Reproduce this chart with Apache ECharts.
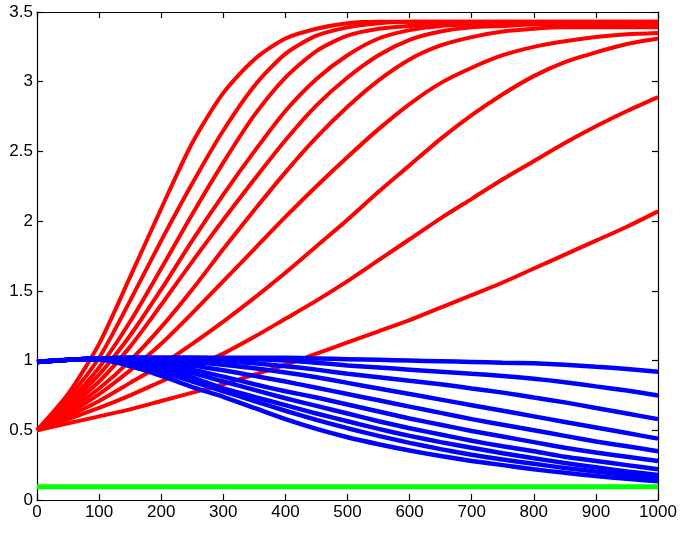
<!DOCTYPE html>
<html>
<head>
<meta charset="utf-8">
<script src="https://cdn.jsdelivr.net/npm/echarts@6/dist/echarts.min.js"></script>
<style>
html,body{margin:0;padding:0;background:#fff;}
#chart{width:685px;height:535px;}
</style>
</head>
<body>
<div id="chart"></div>
<script>
// sample times
var tValues = [0,50,100,150,200,250,300,350,400,450,500,550,600,650,700,750,800,850,900,950,1000];
var xTicks = [0,100,200,300,400,500,600,700,800,900,1000];
var yTicks = [0,0.5,1,1.5,2,2.5,3,3.5];

// red (rising) curves, fastest to slowest
var red1  = [0.50,0.76,1.12,1.60,2.09,2.56,2.92,3.16,3.31,3.38,3.42,3.43,3.43,3.43,3.43,3.43,3.43,3.43,3.43,3.43,3.43];
var red2  = [0.50,0.73,1.02,1.43,1.86,2.27,2.65,2.97,3.20,3.33,3.39,3.42,3.43,3.43,3.43,3.43,3.43,3.43,3.43,3.43,3.43];
var red3  = [0.50,0.70,0.95,1.28,1.66,2.05,2.42,2.76,3.03,3.22,3.33,3.38,3.40,3.41,3.42,3.42,3.42,3.42,3.42,3.42,3.42];
var red4  = [0.50,0.68,0.90,1.18,1.51,1.86,2.19,2.50,2.79,3.02,3.19,3.31,3.37,3.40,3.41,3.42,3.42,3.42,3.42,3.42,3.42];
var red5  = [0.50,0.66,0.85,1.10,1.40,1.71,2.01,2.30,2.58,2.83,3.03,3.19,3.30,3.36,3.39,3.40,3.41,3.41,3.41,3.41,3.41];
var red6  = [0.50,0.64,0.80,1.00,1.24,1.51,1.80,2.08,2.35,2.60,2.82,3.01,3.16,3.26,3.32,3.36,3.38,3.39,3.39,3.39,3.39];
var red7  = [0.50,0.62,0.76,0.93,1.12,1.34,1.57,1.80,2.03,2.25,2.46,2.66,2.84,2.99,3.10,3.19,3.25,3.29,3.32,3.34,3.35];
var red8  = [0.50,0.60,0.71,0.84,0.97,1.12,1.28,1.45,1.63,1.82,2.01,2.21,2.40,2.59,2.76,2.91,3.04,3.14,3.21,3.27,3.31];
var red9  = [0.50,0.58,0.66,0.75,0.85,0.95,1.05,1.17,1.30,1.43,1.57,1.72,1.87,2.02,2.16,2.30,2.43,2.56,2.68,2.79,2.89];
var red10 = [0.50,0.55,0.60,0.65,0.71,0.77,0.83,0.90,0.97,1.05,1.13,1.21,1.29,1.38,1.47,1.56,1.66,1.76,1.86,1.96,2.07];

// blue (falling) curves, slowest to fastest
var blue1  = [0.99,1.005,1.015,1.02,1.02,1.02,1.02,1.02,1.02,1.015,1.01,1.005,1.0,0.995,0.99,0.985,0.98,0.97,0.955,0.94,0.92];
var blue2  = [0.99,1.005,1.015,1.02,1.02,1.02,1.015,1.01,1.0,0.985,0.965,0.95,0.935,0.92,0.905,0.89,0.87,0.845,0.815,0.785,0.75];
var blue3  = [0.99,1.005,1.015,1.02,1.015,1.01,0.995,0.98,0.96,0.935,0.905,0.88,0.855,0.83,0.80,0.77,0.735,0.70,0.66,0.62,0.58];
var blue4  = [0.99,1.005,1.015,1.01,1.005,0.99,0.97,0.945,0.915,0.88,0.84,0.80,0.76,0.72,0.68,0.64,0.60,0.56,0.52,0.48,0.44];
var blue5  = [0.99,1.005,1.015,1.01,0.99,0.965,0.93,0.89,0.85,0.805,0.76,0.715,0.67,0.625,0.58,0.54,0.50,0.46,0.42,0.385,0.35];
var blue6  = [0.99,1.005,1.015,1.0,0.97,0.935,0.885,0.83,0.78,0.735,0.685,0.635,0.585,0.54,0.495,0.455,0.415,0.375,0.34,0.31,0.28];
var blue7  = [0.99,1.005,1.015,0.99,0.955,0.91,0.85,0.79,0.73,0.675,0.62,0.565,0.515,0.47,0.425,0.385,0.35,0.31,0.28,0.25,0.22];
var blue8  = [0.99,1.005,1.01,0.985,0.94,0.88,0.80,0.74,0.68,0.62,0.565,0.51,0.46,0.415,0.375,0.335,0.30,0.265,0.235,0.205,0.18];
var blue9  = [0.99,1.005,1.01,0.975,0.92,0.85,0.78,0.71,0.64,0.575,0.515,0.46,0.41,0.365,0.325,0.29,0.26,0.23,0.205,0.18,0.155];
var blue10 = [0.99,1.005,1.005,0.96,0.89,0.81,0.74,0.66,0.58,0.51,0.45,0.40,0.355,0.315,0.28,0.25,0.22,0.195,0.172,0.152,0.135];

// green constant line
var greenT = [0,1000];
var greenV = [0.095,0.095];

var redSets = [red1,red2,red3,red4,red5,red6,red7,red8,red9,red10];
var blueSets = [blue1,blue2,blue3,blue4,blue5,blue6,blue7,blue8,blue9,blue10];

function pairs(ts, vs){ return ts.map(function(t,i){ return [t, vs[i]]; }); }

var series = [];
redSets.forEach(function(v){
  series.push({type:'line', data:pairs(tValues,v), showSymbol:false, smooth:0.25,
    lineStyle:{color:'#ff0000', width:4}, z:2, silent:true});
});
blueSets.forEach(function(v){
  series.push({type:'line', data:pairs(tValues,v), showSymbol:false, smooth:0.25,
    lineStyle:{color:'#0000ff', width:4.5}, z:3, silent:true});
});
series.push({type:'line', data:pairs(greenT,greenV), showSymbol:false,
  lineStyle:{color:'#00ff00', width:5}, z:4, silent:true});

var font = 'Liberation Sans, Arial, Helvetica, sans-serif';
var axLine = {show:true, onZero:false, lineStyle:{color:'#000', width:1.2}};
var axTick = {show:true, inside:true, length:6, lineStyle:{color:'#000', width:1.2}};

var chart = echarts.init(document.getElementById('chart'), null, {renderer:'canvas'});
chart.setOption({
  animation:false,
  backgroundColor:'#fff',
  grid:{left:37, right:27, top:12, bottom:35, containLabel:false},
  xAxis:[
    {type:'value', min:xTicks[0], max:xTicks[xTicks.length-1], interval:100, position:'bottom',
     axisLine:axLine, axisTick:axTick, splitLine:{show:false},
     axisLabel:{color:'#000', fontSize:17, fontFamily:font, margin:4, formatter:function(v){return String(v);}}},
    {type:'value', min:xTicks[0], max:xTicks[xTicks.length-1], interval:100, position:'top',
     axisLine:axLine, axisTick:axTick, splitLine:{show:false}, axisLabel:{show:false}}
  ],
  yAxis:[
    {type:'value', min:yTicks[0], max:yTicks[yTicks.length-1], interval:0.5, position:'left',
     axisLine:axLine, axisTick:axTick, splitLine:{show:false},
     axisLabel:{color:'#000', fontSize:17, fontFamily:font, margin:4, formatter:function(v){return String(v);}}},
    {type:'value', min:yTicks[0], max:yTicks[yTicks.length-1], interval:0.5, position:'right',
     axisLine:axLine, axisTick:axTick, splitLine:{show:false}, axisLabel:{show:false}}
  ],
  series:series
});
</script>
</body>
</html>
